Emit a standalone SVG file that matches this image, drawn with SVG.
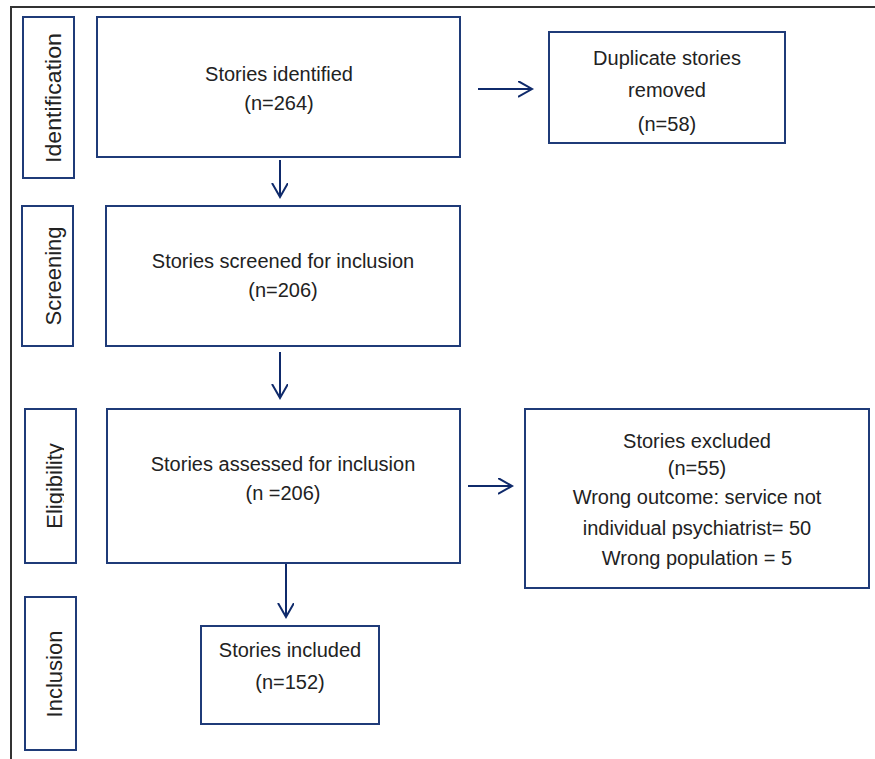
<svg xmlns="http://www.w3.org/2000/svg" width="875" height="759" viewBox="0 0 875 759">
<style>
.box{fill:#fff;stroke:#1f3b78;stroke-width:2}
.t{font-family:"Liberation Sans",Arial,sans-serif;font-size:20px;fill:#222;text-anchor:middle}
.v{font-family:"Liberation Sans",Arial,sans-serif;font-size:22px;fill:#222;text-anchor:middle}
.c{stroke:#0f2a6b;stroke-width:2;fill:none}
.frame{stroke:#333;stroke-width:2;fill:none}
</style>
<defs>
<marker id="arr" markerUnits="userSpaceOnUse" markerWidth="20" markerHeight="20" refX="14" refY="8" orient="auto">
<path d="M0,0 L14,8 L0,16" fill="none" stroke="#0f2a6b" stroke-width="2"/>
</marker>
<clipPath id="clipElig"><rect x="20" y="400" width="44" height="170"/></clipPath>
</defs>
<rect width="875" height="759" fill="#fff"/>
<path class="frame" d="M11,759 L11,7 L875,7"/>

<g id="lbl-identification">
<rect class="box" x="23" y="17" width="51" height="161"/>
<text class="v" transform="translate(61,98) rotate(-90)" textLength="130" lengthAdjust="spacingAndGlyphs">Identification</text>
</g>
<g id="lbl-screening">
<rect class="box" x="22" y="206" width="51" height="140"/>
<text class="v" transform="translate(61,276) rotate(-90)">Screening</text>
</g>
<g id="lbl-eligibility">
<rect class="box" x="25" y="409" width="51" height="154"/>
<g clip-path="url(#clipElig)">
<text class="v" transform="translate(62,486) rotate(-90)">Eligibility</text>
</g>
</g>
<g id="lbl-inclusion">
<rect class="box" x="25" y="597" width="51" height="153"/>
<text class="v" transform="translate(62,674) rotate(-90)">Inclusion</text>
</g>

<g id="identified">
<rect class="box" x="97" y="17" width="363" height="140"/>
<text class="t" x="279" y="81">Stories identified</text>
<text class="t" x="279" y="110">(n=264)</text>
</g>
<g id="duplicates">
<rect class="box" x="549" y="32" width="236" height="111"/>
<text class="t" x="667" y="65">Duplicate stories</text>
<text class="t" x="667" y="97">removed</text>
<text class="t" x="667" y="131">(n=58)</text>
</g>
<g id="screened">
<rect class="box" x="106" y="206" width="354" height="140"/>
<text class="t" x="283" y="268">Stories screened for inclusion</text>
<text class="t" x="283" y="297">(n=206)</text>
</g>
<g id="assessed">
<rect class="box" x="107" y="409" width="353" height="154"/>
<text class="t" x="283" y="471">Stories assessed for inclusion</text>
<text class="t" x="283" y="500">(n =206)</text>
</g>
<g id="excluded">
<rect class="box" x="525" y="409" width="344" height="179"/>
<text class="t" x="697" y="448">Stories excluded</text>
<text class="t" x="697" y="475">(n=55)</text>
<text class="t" x="697" y="504">Wrong outcome: service not</text>
<text class="t" x="697" y="535">individual psychiatrist= 50</text>
<text class="t" x="697" y="565">Wrong population = 5</text>
</g>
<g id="included">
<rect class="box" x="201" y="626" width="178" height="98"/>
<text class="t" x="290" y="657">Stories included</text>
<text class="t" x="290" y="689">(n=152)</text>
</g>

<g id="connectors">
<line class="c" x1="478" y1="89" x2="532" y2="89" marker-end="url(#arr)"/>
<line class="c" x1="280" y1="160" x2="280" y2="197" marker-end="url(#arr)"/>
<line class="c" x1="280" y1="352" x2="280" y2="398" marker-end="url(#arr)"/>
<line class="c" x1="468" y1="486" x2="512" y2="486" marker-end="url(#arr)"/>
<line class="c" x1="286" y1="564" x2="286" y2="617" marker-end="url(#arr)"/>
</g>
</svg>
